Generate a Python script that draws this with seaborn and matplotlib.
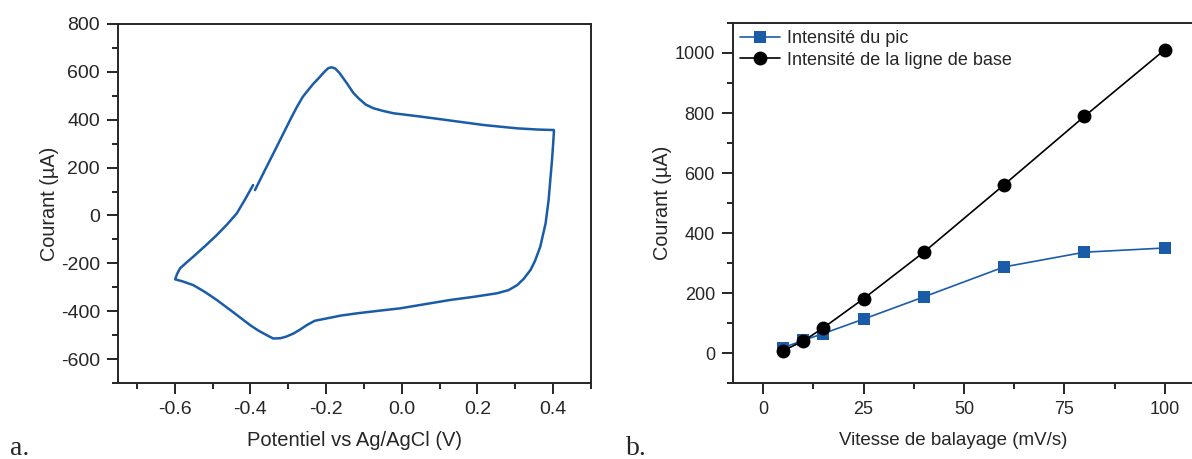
import matplotlib
matplotlib.use('Agg')
import matplotlib.pyplot as plt
import pandas as pd
import seaborn as sns
from matplotlib.ticker import MultipleLocator

# CV curve (potential in V, current in uA), in scan order
cv_potential = [-0.388, -0.366, -0.335, -0.304, -0.29, -0.277, -0.262, -0.251, -0.235, -0.216,
                -0.203, -0.194, -0.185, -0.176, -0.165, -0.145, -0.128, -0.114, -0.095, -0.075,
                -0.050, -0.022, 0.030, 0.084, 0.150, 0.216, 0.260, 0.305, 0.360, 0.402,
                0.402, 0.400, 0.397, 0.392, 0.388, 0.380, 0.366, 0.352, 0.340, 0.322, 0.305,
                0.282, 0.252, 0.190, 0.128, 0.060, -0.004, -0.060,
                -0.119, -0.160, -0.198, -0.230, -0.251, -0.270, -0.286, -0.305, -0.321, -0.340,
                -0.357, -0.380, -0.401, -0.445, -0.489, -0.520, -0.551, -0.580,
                -0.599, -0.594, -0.586, -0.570, -0.551, -0.520, -0.489, -0.462, -0.436, -0.415, -0.393]
cv_current = [106, 176, 273, 371, 415, 454, 495, 517, 548, 580,
              603, 616, 619, 614, 596, 552, 512, 489, 463, 448,
              437, 427, 417, 406, 392, 378, 371, 364, 359, 357,
              350, 300, 232, 140, 65, -33, -130, -190, -228, -265, -291,
              -312, -325, -340, -353, -371, -388, -398,
              -409, -418, -430, -440, -458, -478, -493, -506, -513, -514,
              -500, -480, -458, -405, -353, -320, -291, -275,
              -267, -245, -221, -198, -172, -128, -82, -38, 9, 65, 127]

# scan rate study
scan_rate = [5, 10, 15, 25, 40, 60, 80, 100]
peak_current = [18, 42, 65, 113, 187, 287, 336, 350]
base_current = [8, 40, 84, 181, 336, 561, 789, 1011]

blue = '#1a5ca8'

sns.set_style('ticks')
plt.rcParams['font.family'] = ['Liberation Sans', 'DejaVu Sans']
plt.rcParams['font.size'] = 12
plt.rcParams['axes.linewidth'] = 1.4
plt.rcParams['xtick.major.width'] = 1.4
plt.rcParams['ytick.major.width'] = 1.4
plt.rcParams['xtick.minor.width'] = 1.4
plt.rcParams['ytick.minor.width'] = 1.4
plt.rcParams['xtick.major.size'] = 8
plt.rcParams['ytick.major.size'] = 8
plt.rcParams['xtick.minor.size'] = 4
plt.rcParams['ytick.minor.size'] = 4
plt.rcParams['xtick.major.pad'] = 5
plt.rcParams['ytick.major.pad'] = 5

fig = plt.figure(figsize=(11.92, 4.59), dpi=100)
ax_cv = fig.add_axes([118 / 1192, 1 - 383 / 459, 473 / 1192, 359 / 459])
ax_sr = fig.add_axes([733 / 1192, 1 - 383 / 459, 470 / 1192, 360 / 459])

# a. cyclic voltammogram
cv = pd.DataFrame({'E': cv_potential, 'I': cv_current})
sns.lineplot(data=cv, x='E', y='I', sort=False, estimator=None, color=blue,
             linewidth=1.8, ax=ax_cv)
ax_cv.set_xlim(-0.75, 0.5)
ax_cv.set_ylim(-700, 800)
ax_cv.xaxis.set_minor_locator(MultipleLocator(0.1))
ax_cv.yaxis.set_minor_locator(MultipleLocator(100))
ax_cv.set_xticks([-0.6, -0.4, -0.2, 0.0, 0.2, 0.4])
ax_cv.set_xticklabels(['-0.6', '-0.4', '-0.2', '0.0', '0.2', '0.4'])
ax_cv.set_yticks(range(-600, 801, 200))
ax_cv.set_yticklabels([str(v) for v in range(-600, 801, 200)])
ax_cv.tick_params(labelsize=14)
ax_cv.set_xlabel('Potentiel vs Ag/AgCl (V)', fontsize=14.5, labelpad=9)
ax_cv.set_ylabel('Courant (µA)', fontsize=14.3, labelpad=1)

# b. scan rate
sr = pd.DataFrame({'v': scan_rate, 'peak': peak_current, 'base': base_current})
sns.lineplot(data=sr, x='v', y='peak', color=blue, marker='s', markersize=8,
             markeredgewidth=0, linewidth=1.2, label='Intensité du pic', ax=ax_sr)
sns.lineplot(data=sr, x='v', y='base', color='black', marker='o', markersize=10,
             markeredgewidth=0, linewidth=1.2, label='Intensité de la ligne de base', ax=ax_sr)
ax_sr.set_xlim(-7.5, 109.5)
ax_sr.set_ylim(-100, 1100)
ax_sr.xaxis.set_major_locator(MultipleLocator(25))
ax_sr.xaxis.set_minor_locator(MultipleLocator(12.5))
ax_sr.yaxis.set_major_locator(MultipleLocator(200))
ax_sr.yaxis.set_minor_locator(MultipleLocator(100))
ax_sr.spines['right'].set_visible(False)
ax_sr.tick_params(labelsize=13)
ax_sr.set_xlabel('Vitesse de balayage (mV/s)', fontsize=13.5)
ax_sr.xaxis.set_label_coords(0.468, -0.135)
ax_sr.set_ylabel('Courant (µA)', fontsize=14.3, labelpad=2)
ax_sr.legend(loc='upper left', frameon=False, handlelength=2.2, handletextpad=0.4,
             borderpad=0.1, borderaxespad=0.3, labelspacing=0.25, fontsize=13)

for ax in (ax_cv, ax_sr):
    ax.tick_params(which='both', direction='out', top=False, right=False)

fig.text(10 / 1192, 1 - 455 / 459, 'a.', family='Liberation Serif', fontsize=20)
fig.text(626 / 1192, 1 - 455 / 459, 'b.', family='Liberation Serif', fontsize=20)

fig.savefig('out.png', dpi=100)
